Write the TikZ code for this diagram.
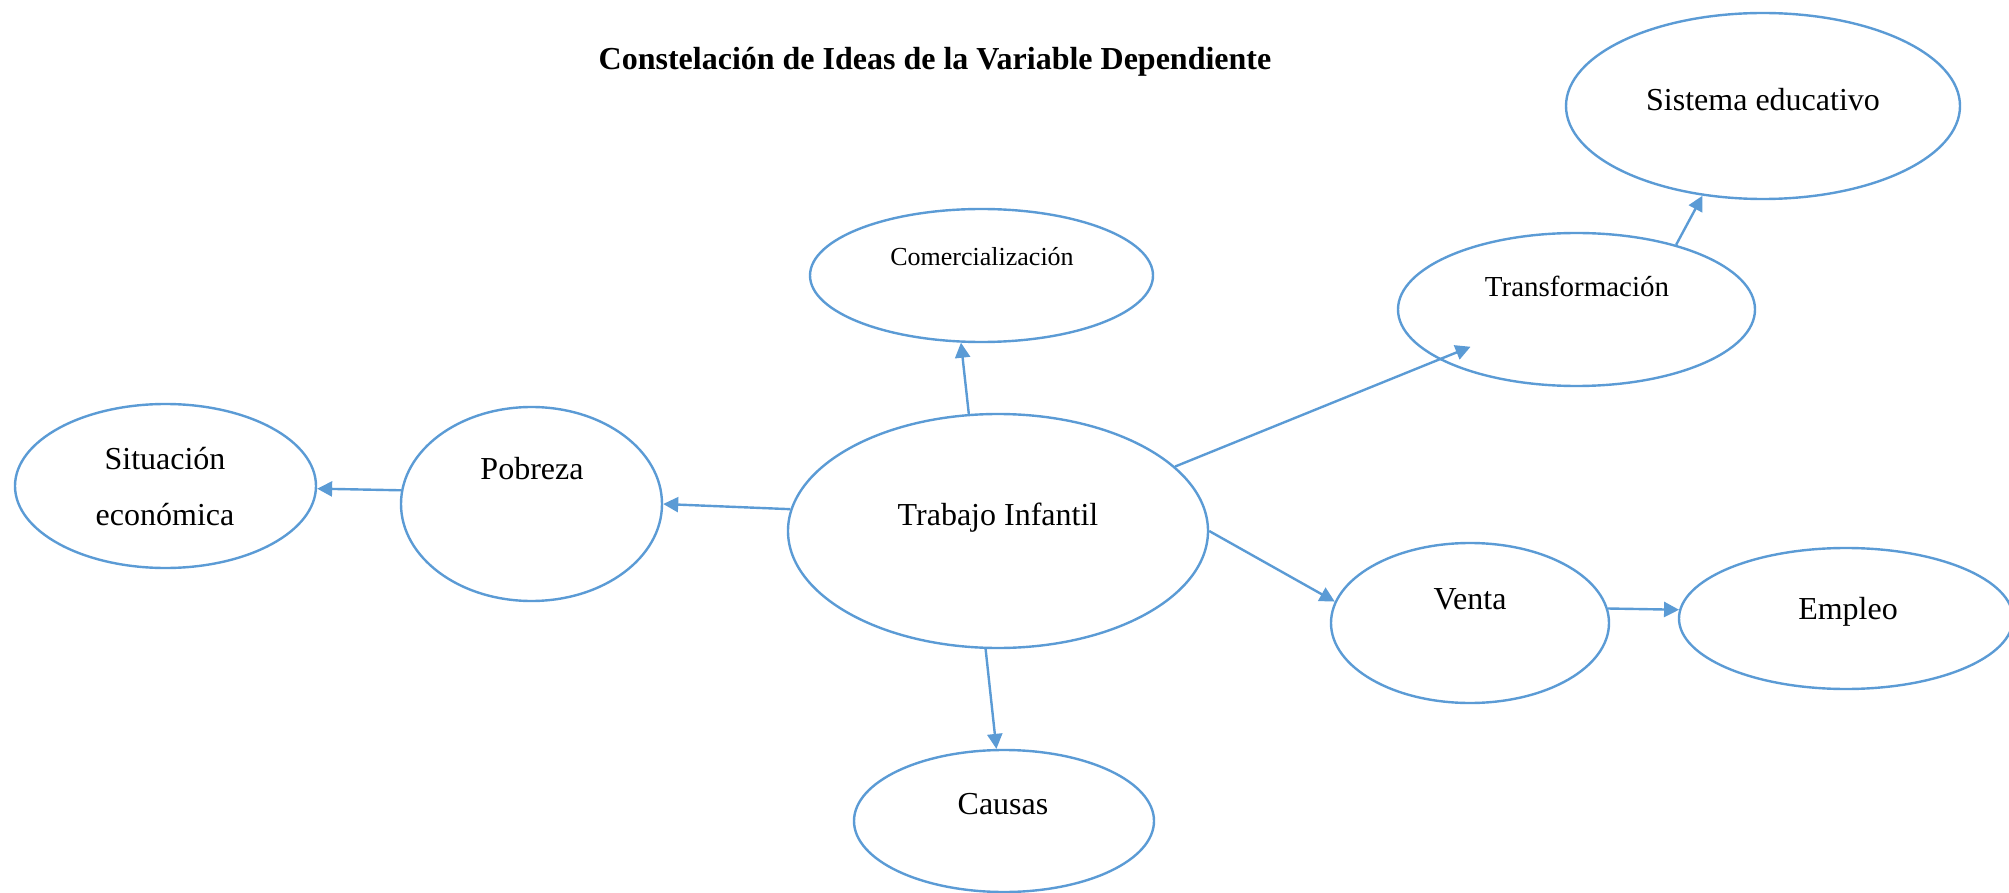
\documentclass[tikz,border=0pt]{standalone}
\usepackage{fontspec}
\setmainfont{Liberation Serif}
\usetikzlibrary{arrows.meta,shapes.geometric}
\definecolor{lineblue}{HTML}{5B9BD5}
\begin{document}
\begin{tikzpicture}[x=0.5pt,y=-0.5pt,
  ell/.style={ellipse,draw=lineblue,line width=1.2pt,inner sep=0pt,fill=white},
  lbl/.style={inner sep=0pt,font=\fontsize{16}{19}\selectfont,text=black},
  conn/.style={draw=lineblue,line width=1.2pt,-{Triangle[length=7.5pt,width=7.5pt]}}]
\useasboundingbox (0,0) rectangle (2009,893);
\node[inner sep=0pt,font=\fontsize{16}{19}\selectfont\bfseries] (title) at (935,62) {Constelación de Ideas de la Variable Dependiente};
% ellipses
\node[ell,minimum width=197pt,minimum height=93pt] (sis) at (1763,106) {};
\node[ell,minimum width=171.5pt,minimum height=66.5pt] (com) at (981.5,275.5) {};
\node[ell,minimum width=178.5pt,minimum height=76.5pt] (tra) at (1576.5,309.5) {};
\node[ell,minimum width=150.5pt,minimum height=82pt] (sit) at (165.5,486) {};
\node[ell,minimum width=130.5pt,minimum height=97pt] (pob) at (531.5,504) {};
\node[ell,minimum width=210pt,minimum height=117pt] (trab) at (998,531) {};
\node[ell,minimum width=139pt,minimum height=80pt] (ven) at (1470,623) {};
\node[ell,minimum width=167pt,minimum height=70.5pt] (emp) at (1846,618.5) {};
\node[ell,minimum width=150pt,minimum height=71pt] (cau) at (1004,821) {};
% texts
\node[lbl] (sis-t) at (1763,100) {Sistema educativo};
\node[lbl,font=\fontsize{13}{16}\selectfont] (com-t) at (982,257) {Comercialización};
\node[lbl,font=\fontsize{14.5}{17}\selectfont] (tra-t) at (1577,286) {Transformación};
\node[lbl,align=center,font=\fontsize{16}{28}\selectfont] (sit-t) at (165,487) {Situación\\económica};
\node[lbl] (pob-t) at (532,469) {Pobreza};
\node[lbl] (trab-t) at (998,518) {Trabajo Infantil};
\node[lbl] (ven-t) at (1470,599) {Venta};
\node[lbl] (emp-t) at (1848,612) {Empleo};
\node[lbl] (cau-t) at (1003,804) {Causas};
% connectors
\draw[conn] (trab.104.5) -- (com.253.4);
\draw[conn] (trab.174.8) -- (pob.0);
\draw[conn] (pob.174.7) -- (sit.359);
\draw[conn,shorten >=-17pt] (trab.20.8) -- (tra.200.2);
\draw[conn] (tra.33.5) -- (sis.236.7);
\draw[conn] (trab.0) -- (ven.171.9);
\draw[conn] (ven.6.5) -- (emp.177.4);
\draw[conn] (trab.264.9) -- (cau.96.2);
\end{tikzpicture}
\end{document}
